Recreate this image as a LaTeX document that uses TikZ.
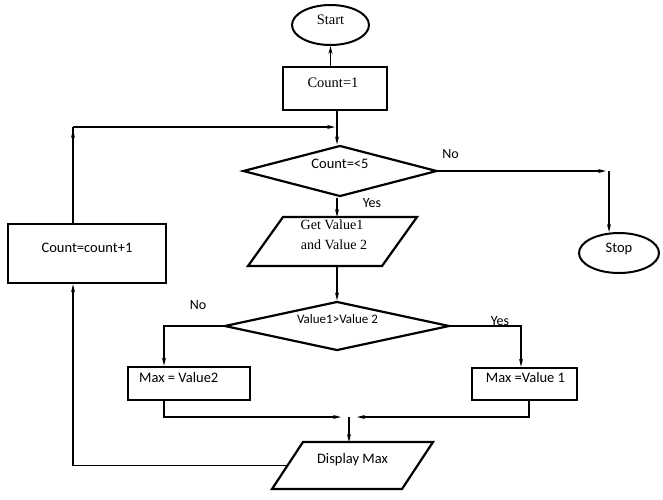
\documentclass[tikz,border=0pt]{standalone}
\usepackage{fontspec}
\setmainfont{Liberation Serif}
\newfontfamily\calib{Carlito}
\usetikzlibrary{shapes.geometric,arrows.meta}
\begin{document}
\begin{tikzpicture}[x=1pt,y=-1pt,
  shp/.style={draw, line width=2.2pt, inner sep=0pt},
  boxn/.style={shp, rectangle, line width=2.6pt},
  ell/.style={shp, ellipse, line width=2pt},
  dia/.style={shp, diamond},
  paraframe/.style={rectangle, inner sep=0pt, outer sep=0pt},
  paraline/.style={line width=2.2pt, line join=miter},
  con/.style={line width=1.2pt},
  arr/.style={con, -{Stealth[length=8pt,width=4pt]}},
  sf/.style={font=\calib\fontsize{14.5}{17}\selectfont, anchor=base, inner sep=0pt},
  rm/.style={font=\fontsize{14.5}{17}\selectfont, anchor=base, inner sep=0pt},
]
\useasboundingbox (0,0) rectangle (663,499);
% shapes
\node[ell, minimum width=77pt, minimum height=40pt] (start) at (330.5,25) {};
\node[boxn, minimum width=104pt, minimum height=43pt] (count1) at (335,88.5) {};
\node[dia, minimum width=194pt, minimum height=51pt] (d1) at (340,171) {};
\node[paraframe, minimum width=134pt, minimum height=49pt] (get) at (332.5,241.5) {};
\draw[paraline] ([xshift=17.5pt]get.north west) -- ([xshift=17.5pt]get.north east)
  -- ([xshift=-17.5pt]get.south east) -- ([xshift=-17.5pt]get.south west) -- cycle;
\node[dia, minimum width=225pt, minimum height=49pt] (d2) at (337,326) {};
\node[boxn, minimum width=122pt, minimum height=33pt] (mv2) at (189,383.5) {};
\node[boxn, minimum width=105pt, minimum height=32pt] (mv1) at (524.5,384) {};
\node[paraframe, minimum width=130pt, minimum height=47pt] (dm) at (352.5,465.5) {};
\draw[paraline] ([xshift=15.5pt]dm.north west) -- ([xshift=15.5pt]dm.north east)
  -- ([xshift=-15.5pt]dm.south east) -- ([xshift=-15.5pt]dm.south west) -- cycle;
\node[boxn, minimum width=158pt, minimum height=59pt] (cc) at (87,253.5) {};
\node[ell, minimum width=80pt, minimum height=40pt] (stop) at (619,253) {};
% texts
\node[rm] (tstart) at (330.5,24) {Start};
\node[rm] (tcount1) at (333,87) {Count=1};
\node[sf] (td1) at (340,168) {Count=<5};
\node[sf, font=\calib\fontsize{14}{17}\selectfont] (tyes1) at (372,207) {Yes};
\node[sf, font=\calib\fontsize{14}{17}\selectfont] (tno1) at (450.5,158) {No};
\node[sf] (tstop) at (619,252) {Stop};
\node[rm, font=\fontsize{14}{17}\selectfont] (tget1) at (332,229) {Get Value1};
\node[rm, font=\fontsize{14}{17}\selectfont] (tget2) at (334,249) {and Value 2};
\node[sf] (tcc) at (87,252) {Count=count+1};
\node[sf, font=\calib\fontsize{14}{17}\selectfont] (tno2) at (198,309) {No};
\node[sf, font=\calib\fontsize{13}{15}\selectfont] (td2) at (337.5,323) {Value1>Value 2};
\node[sf, font=\calib\fontsize{14}{17}\selectfont] (tyes2) at (500,325) {Yes};
\node[sf, anchor=base west] (tmv2) at (139,382) {Max = Value2};
\node[sf] (tmv1) at (525.5,382) {Max =Value 1};
\node[sf] (tdm) at (352.5,463) {Display Max};
% helper coordinates
\coordinate (lt) at (73,127);
\coordinate (lj) at (335,127);
\coordinate (nc) at (609,171);
\coordinate (ml) at (341,417);
\coordinate (mr) at (357,417);
\coordinate (mg) at (349,417);
\coordinate (lb) at (73,468);
% connectors
\draw[arr] (start.south |- count1.north) -- (start.south);
\draw[arr] ([xshift=2pt]count1.south) -- ([xshift=2pt]count1.south |- d1.north);
\draw[arr] (lt) -- (lj);
\draw[arr] (d1.east) -- ([xshift=-3pt]nc);
\draw[arr] (nc) -- (nc |- stop.north);
\draw[arr] ([xshift=-3pt]d1.south) -- ([xshift=-3pt]d1.south |- get.north);
\draw[arr] (d2.north |- get.south) -- (d2.north);
\draw[arr] (d2.west) -| ([xshift=-25pt]mv2.north);
\draw[arr] (d2.east) -| ([xshift=-3.5pt]mv1.north);
\draw[arr] ([xshift=-25pt]mv2.south) |- (ml);
\draw[arr] ([xshift=4.5pt]mv1.south) |- (mr);
\draw[arr] (mg) -- (mg |- dm.north);
\draw[con] (dm.west) -- (lb |- dm.west);
\draw[arr] (lb |- dm.west) -- (lb |- cc.south);
\draw[con] (lb |- cc.north) -- (lt);
\draw[arr] (lb |- cc.north) -- ([yshift=-3pt]lt);
\end{tikzpicture}
\end{document}
